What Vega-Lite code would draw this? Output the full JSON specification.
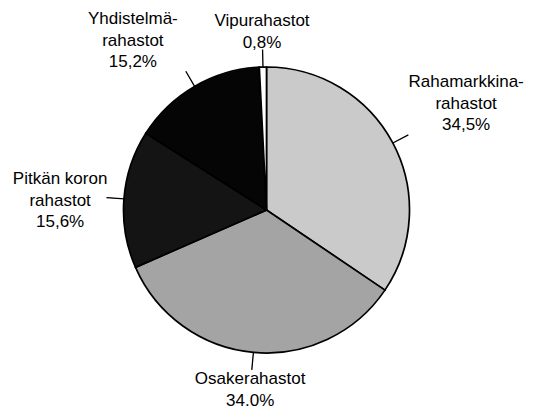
{
  "$schema": "https://vega.github.io/schema/vega-lite/v6.json",
  "width": 533,
  "height": 394,
  "autosize": {"type": "none"},
  "padding": {"top": 13, "left": 0, "right": 0, "bottom": 0},
  "background": "white",
  "view": {"stroke": null},
  "config": {"text": {"font": "Liberation Sans", "fontSize": 17, "lineHeight": 21.5, "color": "black", "lineBreak": "\n"}},
  "data": {
    "values": [
      {"fund": "Rahamarkkinarahastot", "label": "Rahamarkkina-\nrahastot\n34,5%", "value": 34.5},
      {"fund": "Osakerahastot", "label": "Osakerahastot\n34.0%", "value": 34.0},
      {"fund": "Pitkän koron rahastot", "label": "Pitkän koron\nrahastot\n15,6%", "value": 15.6},
      {"fund": "Yhdistelmärahastot", "label": "Yhdistelmä-\nrahastot\n15,2%", "value": 15.2},
      {"fund": "Vipurahastot", "label": "Vipurahastot\n0,8%", "value": 0.8}
    ]
  },
  "transform": [
    {"window": [{"op": "row_number", "as": "idx"}]},
    {"stack": "value", "groupby": [], "sort": [{"field": "idx"}], "as": ["v0", "v1"]},
    {"calculate": "(datum.v0 + datum.v1) / 2", "as": "mid"},
    {"calculate": "datum.mid + 0.02", "as": "mid2"}
  ],
  "layer": [
    {
      "mark": {"type": "arc", "radius": 143, "stroke": "black", "strokeWidth": 1.7},
      "encoding": {
        "theta": {"field": "v0", "type": "quantitative", "scale": {"domain": [0, 100.1]}},
        "theta2": {"field": "v1"},
        "color": {
          "field": "fund",
          "type": "nominal",
          "scale": {
            "domain": ["Rahamarkkinarahastot", "Osakerahastot", "Pitkän koron rahastot", "Yhdistelmärahastot", "Vipurahastot"],
            "range": ["#cacaca", "#a4a4a4", "#141414", "#050505", "#ffffff"]
          },
          "legend": null
        }
      }
    },
    {
      "mark": {"type": "arc", "radius": 160, "radius2": 143, "stroke": "black", "strokeWidth": 1.1, "fill": "black"},
      "encoding": {
        "theta": {"field": "mid", "type": "quantitative"},
        "theta2": {"field": "mid2"}
      }
    },
    {
      "transform": [{"filter": "datum.fund === 'Vipurahastot'"}],
      "mark": {"type": "text", "radius": 178, "dy": -11, "align": "center", "baseline": "middle"},
      "encoding": {"theta": {"field": "mid", "type": "quantitative"}, "text": {"field": "label"}}
    },
    {
      "transform": [{"filter": "datum.fund === 'Rahamarkkinarahastot'"}],
      "mark": {"type": "text", "radius": 226, "dy": -22, "align": "center", "baseline": "middle"},
      "encoding": {"theta": {"field": "mid", "type": "quantitative"}, "text": {"field": "label"}}
    },
    {
      "transform": [{"filter": "datum.fund === 'Osakerahastot'"}],
      "mark": {"type": "text", "radius": 180, "dy": -10, "align": "center", "baseline": "middle"},
      "encoding": {"theta": {"field": "mid", "type": "quantitative"}, "text": {"field": "label"}}
    },
    {
      "transform": [{"filter": "datum.fund === 'Pitkän koron rahastot'"}],
      "mark": {"type": "text", "radius": 207, "dy": -15, "align": "center", "baseline": "middle"},
      "encoding": {"theta": {"field": "mid", "type": "quantitative"}, "text": {"field": "label"}}
    },
    {
      "transform": [{"filter": "datum.fund === 'Yhdistelmärahastot'"}],
      "mark": {"type": "text", "radius": 200, "dx": -33, "dy": -18, "align": "center", "baseline": "middle"},
      "encoding": {"theta": {"field": "mid", "type": "quantitative"}, "text": {"field": "label"}}
    }
  ]
}
